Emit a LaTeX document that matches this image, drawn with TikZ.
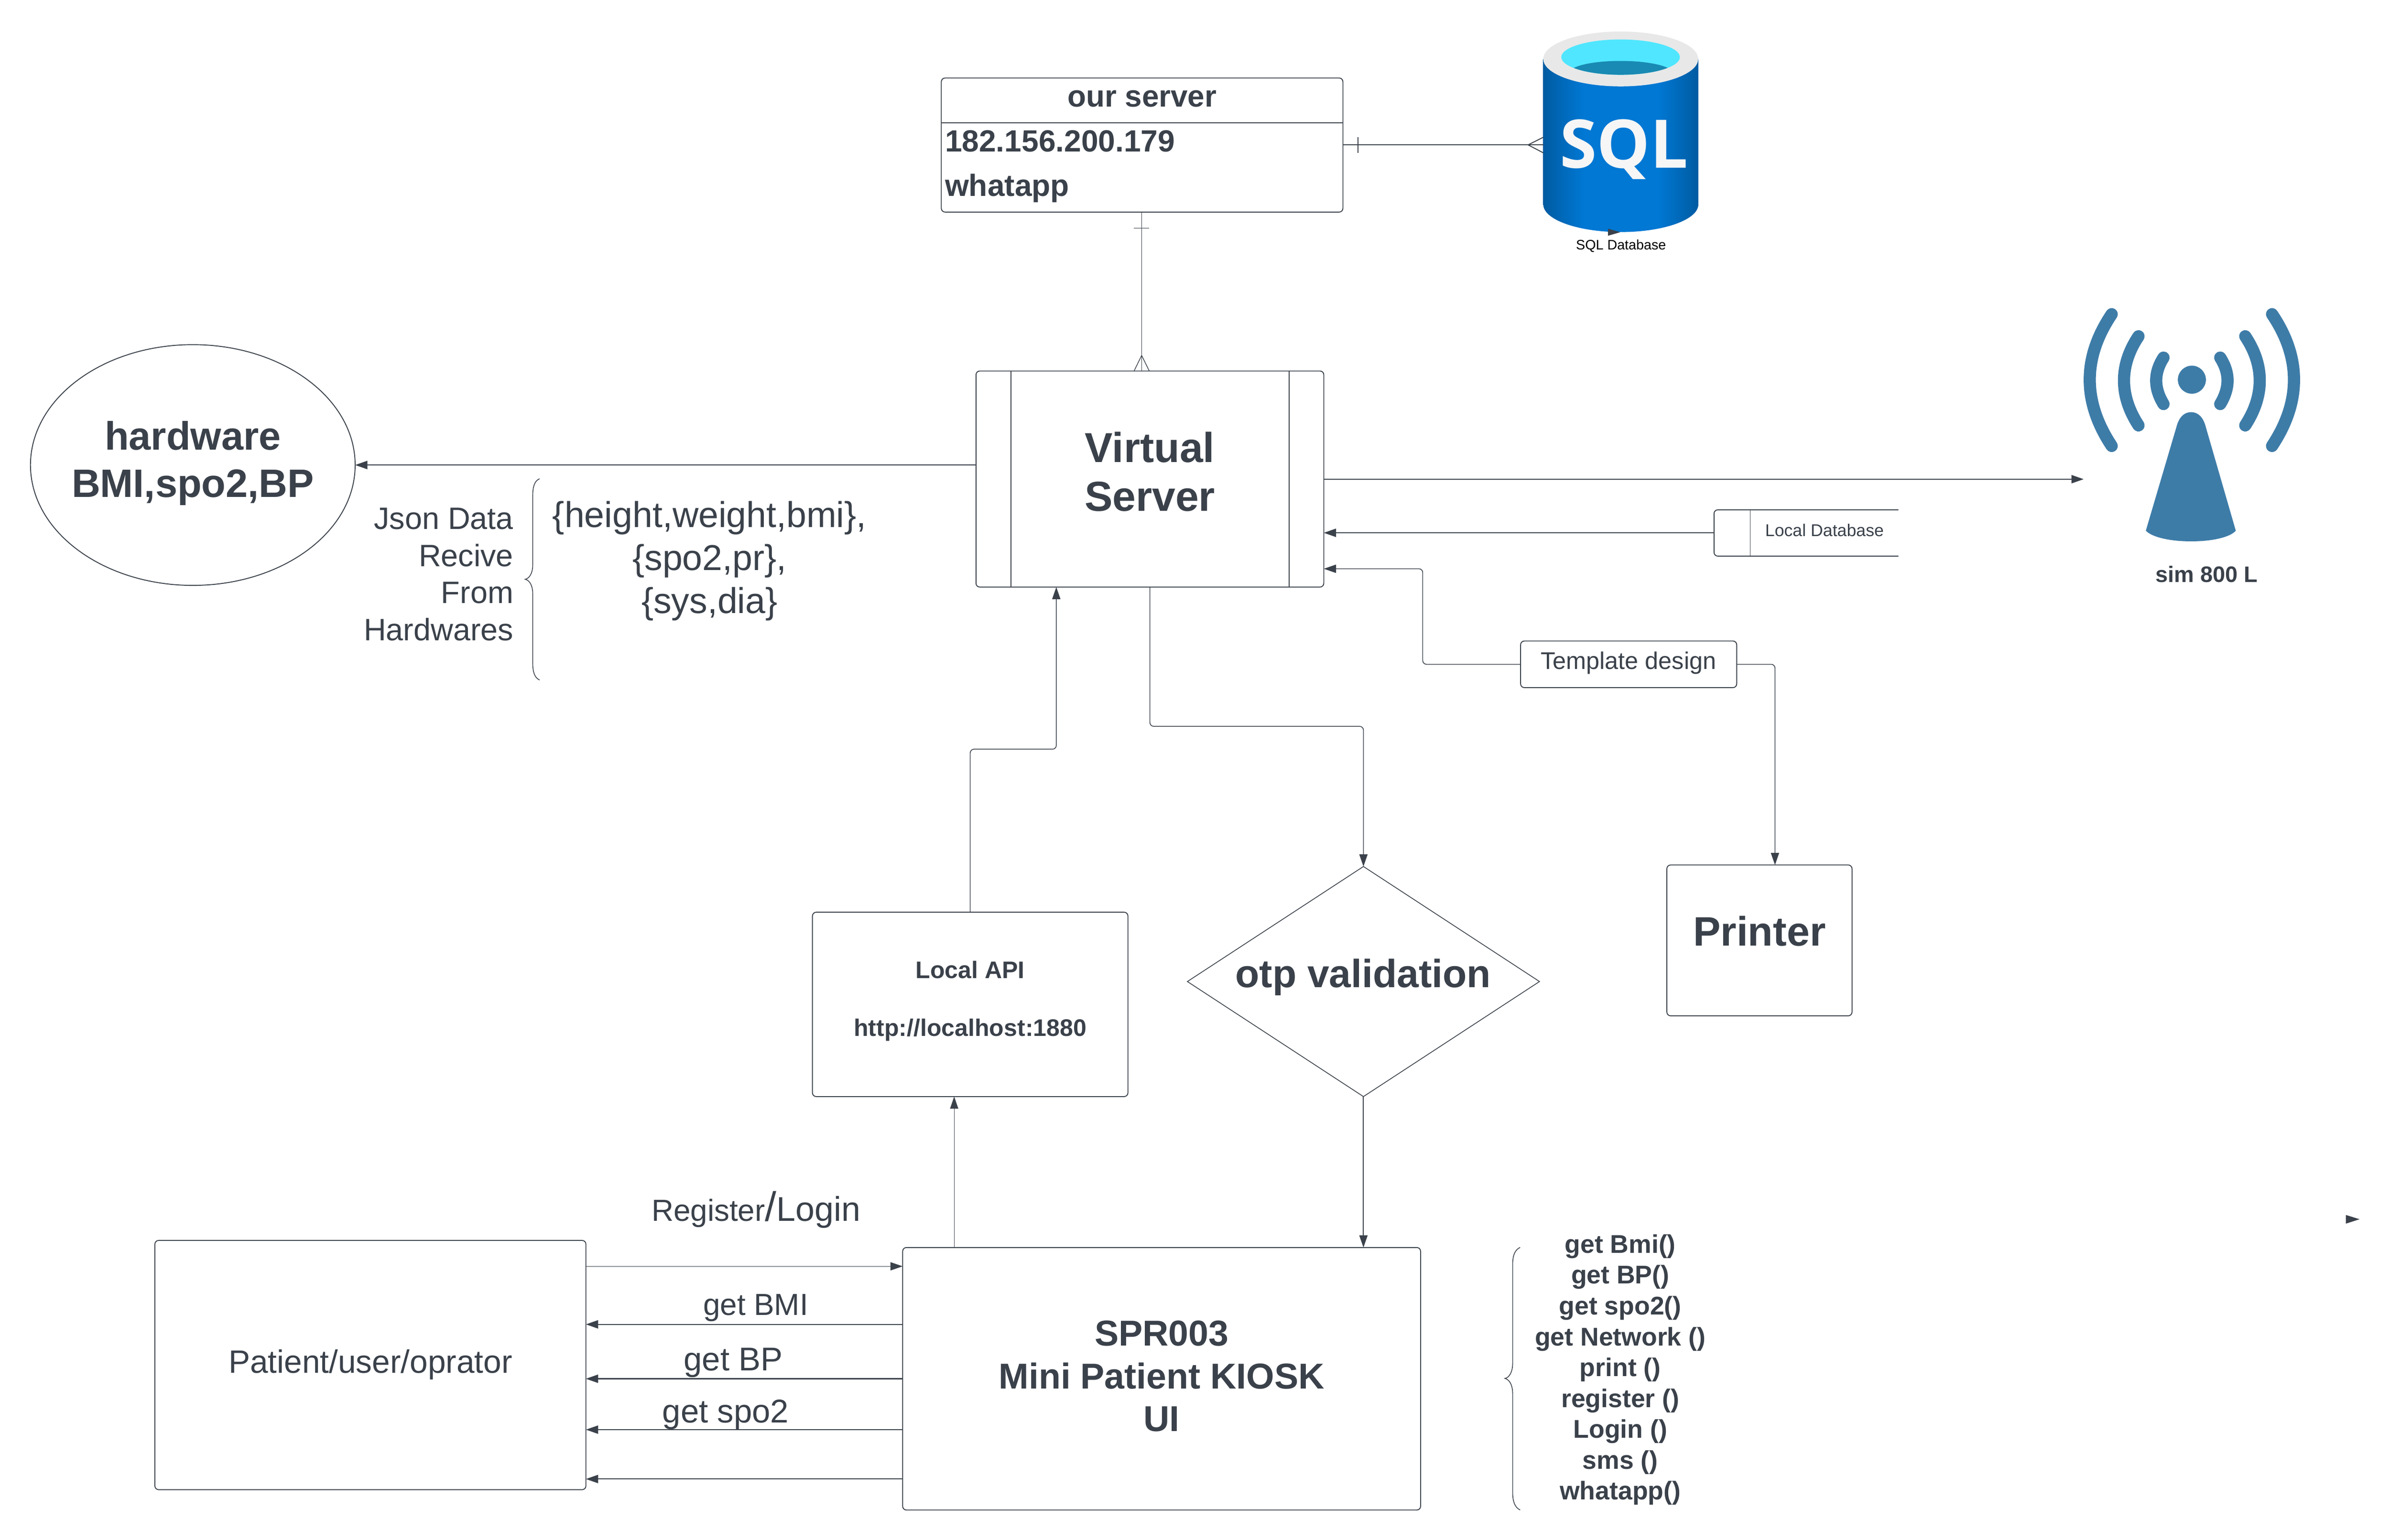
\documentclass[tikz,border=0pt]{standalone}
\usepackage{fontspec}
\setmainfont{Liberation Sans}
\newfontfamily\sqlfont{Open Sans}
\usetikzlibrary{shapes.geometric, arrows.meta, positioning, calc}
\usepackage{xcolor}
\definecolor{ink}{HTML}{3A414A}
\definecolor{sqldark}{HTML}{005BA1}
\definecolor{sqlblue}{HTML}{0078D4}
\definecolor{sqlgray}{HTML}{E8E8E8}
\definecolor{sqlcyan}{HTML}{50E6FF}
\definecolor{sqlwater}{HTML}{198AB3}
\definecolor{towerblue}{HTML}{3E7CA8}
\pgfdeclarehorizontalshading{sqlbody}{100bp}{color(0bp)=(sqldark); color(25bp)=(sqldark); color(38bp)=(sqlblue); color(62bp)=(sqlblue); color(75bp)=(sqldark); color(100bp)=(sqldark)}

\begin{document}
\begin{tikzpicture}[
        x=1pt, y=-1pt,
        box/.style={rectangle, draw=ink, line width=0.6pt, rounded corners=2.5pt, inner sep=0pt, outer sep=0pt, align=center, text=ink},
        txt/.style={inner sep=0pt, outer sep=0pt, align=center, text=ink},
        arrow/.style={-{Triangle[length=8pt, width=5.4pt]}, draw=ink, line width=0.7pt},
        thinarrow/.style={arrow, line width=0.35pt},
        elbow/.style={arrow, line width=0.5pt, rounded corners=2.5pt},
        link/.style={draw=ink, line width=0.6pt},
        curly/.style={draw=ink, line width=0.5pt},
        wave/.style={draw=towerblue, line width=8pt, line cap=round}
    ]
        \useasboundingbox (0,-0.7) rectangle (1568,1010);

        % Server and database
        \node[box, minimum width=263.5pt, minimum height=88pt] (ourserver) at (749.3,94.5) {};
        \draw[link] (ourserver.west |- 0,80) -- (ourserver.east |- 0,80);
        \node[txt, anchor=base, font=\bfseries\fontsize{20}{24}\selectfont] (ourtitle) at (749.3,69.5) {our server};
        \node[txt, anchor=base west, font=\bfseries\fontsize{20.1}{24}\selectfont] (ourip) at (620,98.8) {182.156.200.179};
        \node[txt, anchor=base west, font=\bfseries\fontsize{20.1}{24}\selectfont] (ourapp) at (620,128) {whatapp};

        % SQL cylinder
        \shade[shading=sqlbody] (1012.5,38) -- (1012.5,133.5) .. controls (1012.5,143.5) and (1035.3,151.6) .. (1063.3,151.6)
            .. controls (1091.4,151.6) and (1114.2,143.5) .. (1114.2,133.5) -- (1114.2,38) -- cycle;
        \fill[sqlgray] (1063.3,38) ellipse [x radius=50.8, y radius=18];
        \fill[sqlcyan] (1063.2,36.8) ellipse [x radius=38.9, y radius=11.6];
        \begin{scope}
            \clip (1063.2,36.8) ellipse [x radius=38.9, y radius=11.6];
            \fill[sqlwater] (1032.7,43.8) .. controls (1045,37.8) and (1081,37.8) .. (1094,43.8) -- (1094,50) -- (1032.7,50) -- cycle;
        \end{scope}
        \node[inner sep=0pt, text=sqlgray!40!white, font=\sqlfont\bfseries\fontsize{44}{50}\selectfont] (sqlword) at (1065.5,97.3) {SQL};
        \fill[ink] (1055,149.4) -- (1063,151.7) -- (1055,154) -- cycle;
        \node[inner sep=0pt, text=black, font=\fontsize{9}{11}\selectfont] (sqlname) at (1063.5,160.8) {SQL Database};

        % Server to database
        \coordinate (sqlside) at (1012.5,94.4);
        \draw[link] (ourserver.east |- sqlside) -- (sqlside);
        \draw[link] (891,89.4) -- (891,99.6);
        \draw[link] (1012.5,89.4) -- (1002.5,94.4) -- (1012.5,99.6);

        % Virtual server
        \node[box, minimum width=228.2pt, minimum height=141.8pt] (vserver) at (754.4,313.7) {};
        \node[txt, font=\bfseries\fontsize{27.5}{32}\selectfont] (vservertext) at (754.4,309) {Virtual\\Server};
        \draw[link] (663.3,0 |- vserver.north) -- (663.3,0 |- vserver.south);
        \draw[link] (845.8,0 |- vserver.north) -- (845.8,0 |- vserver.south);
        \draw[link, line width=0.45pt] (ourserver.south -| 749,0) -- (749,0 |- vserver.north);
        \draw[link, line width=0.45pt] (744,149) -- (754,149);
        \draw[link, line width=0.45pt] (744,242.8) -- (749,232.6) -- (754,242.8);

        % Hardware
        \node[ellipse, draw=ink, line width=0.6pt, inner sep=0pt, outer sep=0pt, minimum width=213pt, minimum height=158pt] (hardware) at (126.5,304.5) {};
        \node[txt, font=\bfseries\fontsize{26}{31}\selectfont] (hardwaretext) at (126.5,303.3) {hardware\\BMI,spo2,BP};
        \draw[arrow] (vserver.west |- hardware.east) -- (hardware.east);
        \node[txt, align=right, anchor=east, font=\fontsize{20.3}{24.3}\selectfont] (jsonlabel) at (336.8,376.3) {Json Data\\Recive\\From\\Hardwares};
        \draw[curly] (354,313.5) .. controls (350.5,315) and (349.5,319) .. (349.5,325) -- (349.5,370)
            .. controls (349.5,376) and (347,379) .. (344.6,379.5) .. controls (347,380) and (349.5,383) .. (349.5,389)
            -- (349.5,434) .. controls (349.5,440) and (350.5,444) .. (354,445.6);
        \node[txt, font=\fontsize{23.6}{28.2}\selectfont] (jsonfields) at (465.5,367.6) {\{height,weight,bmi\},\\\{spo2,pr\},\\\{sys,dia\}};

        % sim module
        \coordinate (simtip) at (1367,313.8);
        \draw[arrow] (vserver.east |- simtip) -- (simtip);
        \fill[towerblue] (1438,248.5) circle (9.2);
        \foreach \side in {-1,1} {
            \draw[wave] ({1438+\side*18.6},234) .. controls ({1438+\side*25},244) and ({1438+\side*25},254) .. ({1438+\side*18.6},264.5);
            \draw[wave] ({1438+\side*35},220) .. controls ({1438+\side*47.7},239) and ({1438+\side*47.7},259) .. ({1438+\side*35},278.5);
            \draw[wave] ({1438+\side*52.6},205.5) .. controls ({1438+\side*71.8},234) and ({1438+\side*71.8},263) .. ({1438+\side*52.6},292);
        }
        \fill[towerblue] (1407.8,347.6) -- (1427.8,279.8) .. controls (1429.5,273) and (1433,269.8) .. (1437.5,269.8)
            .. controls (1442,269.8) and (1445.5,273) .. (1447.2,279.8) -- (1466.8,347.6)
            .. controls (1463,352) and (1451,354.6) .. (1437.5,354.6) .. controls (1424,354.6) and (1412,352) .. (1407.8,347.6) -- cycle;
        \node[txt, font=\bfseries\fontsize{14.7}{18}\selectfont] (simlabel) at (1447.7,376.3) {sim 800 L};

        % Local database
        \node[inner sep=0pt, outer sep=0pt, minimum width=121pt, minimum height=30.4pt] (localdb) at (1185,349.1) {};
        \draw[link, rounded corners=2.5pt] (localdb.north east) -- (localdb.north west) -- (localdb.south west) -- (localdb.south east);
        \draw[link, line width=0.45pt] (1148.3,0 |- localdb.north) -- (1148.3,0 |- localdb.south);
        \node[txt, font=\fontsize{11.2}{13}\selectfont] (localdbtext) at (1197,347.2) {Local Database};
        \draw[arrow] (localdb.west |- 0,349) -- (vserver.east |- 0,349);

        % Template and printer
        \node[box, minimum width=141.8pt, minimum height=30.6pt] (template) at (1068.5,435.3) {};
        \node[txt, font=\fontsize{15.8}{19}\selectfont] (templatetext) at (1068.4,434.3) {Template design};
        \node[box, minimum width=121.5pt, minimum height=99pt] (printer) at (1154.3,616.5) {};
        \node[txt, font=\bfseries\fontsize{27}{32}\selectfont] (printertext) at (1154.3,610.3) {Printer};
        \draw[elbow] (template.west) -- (933.4,435.3) -- (933.4,372.6) -- (vserver.east |- 0,372.6);
        \draw[elbow] (template.east) -- (1164.5,435.3) -- (1164.5,0 |- printer.north);

        % OTP
        \node[diamond, draw=ink, line width=0.5pt, inner sep=0pt, outer sep=0pt, aspect=1.53, minimum width=231pt, minimum height=151pt] (otp) at (894.5,643.5) {};
        \node[txt, font=\bfseries\fontsize{25.8}{31}\selectfont] (otptext) at (894.3,640.6) {otp validation};
        \draw[elbow] (vserver.south) -- (754.4,476) -- (894.5,476) -- (otp.north);

        % Local API
        \node[box, minimum width=207pt, minimum height=121pt] (localapi) at (636.5,658.5) {};
        \node[txt, font=\bfseries\fontsize{15.7}{19}\selectfont] (localapitext) at (636.5,656.3) {Local API\\[19pt]http://localhost:1880};
        \draw[elbow] (localapi.north) -- (636.5,491) -- (693,491) -- (693,0 |- vserver.south);

        % Kiosk
        \node[box, minimum width=339.8pt, minimum height=172.3pt] (kiosk) at (762.1,904.2) {};
        \node[txt, font=\bfseries\fontsize{23.6}{28}\selectfont] (kiosktext) at (762.1,902.5) {SPR003\\Mini Patient KIOSK\\UI};
        \draw[arrow, line width=0.6pt] (otp.south) -- (894.5,0 |- kiosk.north);
        \draw[thinarrow] (626,0 |- kiosk.north) -- (626,0 |- localapi.south);

        % Patient
        \node[box, minimum width=282.8pt, minimum height=163.6pt] (patient) at (243,895.2) {};
        \node[txt, font=\fontsize{21.2}{25}\selectfont] (patienttext) at (243,894.8) {Patient/user/oprator};
        \draw[thinarrow] (patient.east |- 0,830.4) -- (kiosk.west |- 0,830.4);
        \draw[arrow] (kiosk.west |- 0,868.5) -- (patient.east |- 0,868.5);
        \draw[arrow] (kiosk.west |- 0,904.2) -- (patient.east |- 0,904.2);
        \draw[arrow] (kiosk.west |- 0,937.6) -- (patient.east |- 0,937.6);
        \draw[arrow] (kiosk.west |- 0,970) -- (patient.east |- 0,970);

        % Labels
        \node[txt, font=\fontsize{20}{24}\selectfont] (reglabel) at (496,793.3) {Register{\fontsize{27}{24}\selectfont/}{\fontsize{22.5}{24}\selectfont Login}};
        \node[txt, font=\fontsize{20}{24}\selectfont] (bmilabel) at (495.8,857.8) {get BMI};
        \node[txt, font=\fontsize{21.6}{26}\selectfont] (bplabel) at (481,893.8) {get BP};
        \node[txt, font=\fontsize{21.6}{26}\selectfont] (spolabel) at (476,927.8) {get spo2};

        % Function list
        \draw[curly] (997.3,818) .. controls (994,819.5) and (992.4,823) .. (992.4,829) -- (992.4,894)
            .. controls (992.4,900) and (990,903.5) .. (987.3,904) .. controls (990,904.5) and (992.4,908) .. (992.4,914)
            -- (992.4,979) .. controls (992.4,985) and (994,988.8) .. (997.3,990.3);
        \node[txt, font=\bfseries\fontsize{16.8}{20.25}\selectfont] (funclist) at (1063,898.3) {get Bmi()\\get BP()\\get spo2()\\get Network ()\\print ()\\register ()\\Login ()\\sms ()\\whatapp()};
        \fill[ink] (1539,796.7) -- (1548,799.5) -- (1539,802.4) -- cycle;
    \end{tikzpicture}
\end{document}
